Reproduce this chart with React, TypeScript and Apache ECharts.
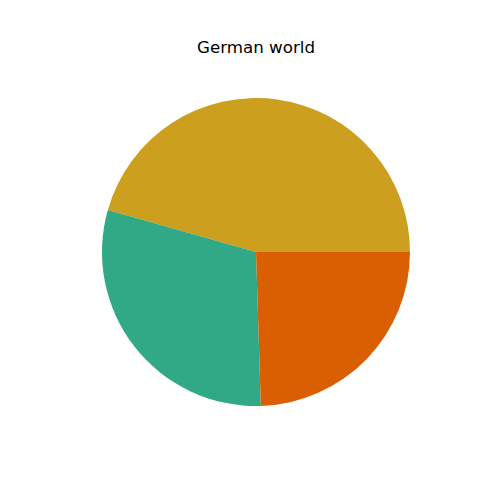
import React, { useEffect, useRef } from "react";
import * as echarts from "echarts";

const categories = ["A", "B", "C"];
const values = [45.6, 29.9, 24.5];
const colors = ["#CC9F1E", "#31A886", "#D95F02"];
const titleText = "German world";

export default function App() {
  const ref = useRef<HTMLDivElement>(null);
  useEffect(() => {
    if (!ref.current) return;
    const chart = echarts.init(ref.current, undefined, { renderer: "svg" });
    chart.setOption({
      animation: false,
      backgroundColor: "#ffffff",
      title: {
        text: titleText,
        left: 251,
        top: 33,
        textAlign: "center",
        textStyle: {
          fontFamily: "DejaVu Sans",
          fontSize: 16.7,
          fontWeight: "normal",
          color: "#000000",
        },
      },
      series: [
        {
          type: "pie",
          center: [256, 252],
          radius: 154,
          startAngle: 0,
          clockwise: false,
          label: { show: false },
          labelLine: { show: false },
          emphasis: { disabled: true },
          itemStyle: { borderWidth: 0 },
          data: categories.map((c, i) => ({
            name: c,
            value: values[i],
            itemStyle: { color: colors[i] },
          })),
        },
      ],
    });
    return () => chart.dispose();
  }, []);
  return (
    <div
      ref={ref}
      style={{ position: "absolute", left: 0, top: 0, width: 500, height: 500 }}
    />
  );
}
